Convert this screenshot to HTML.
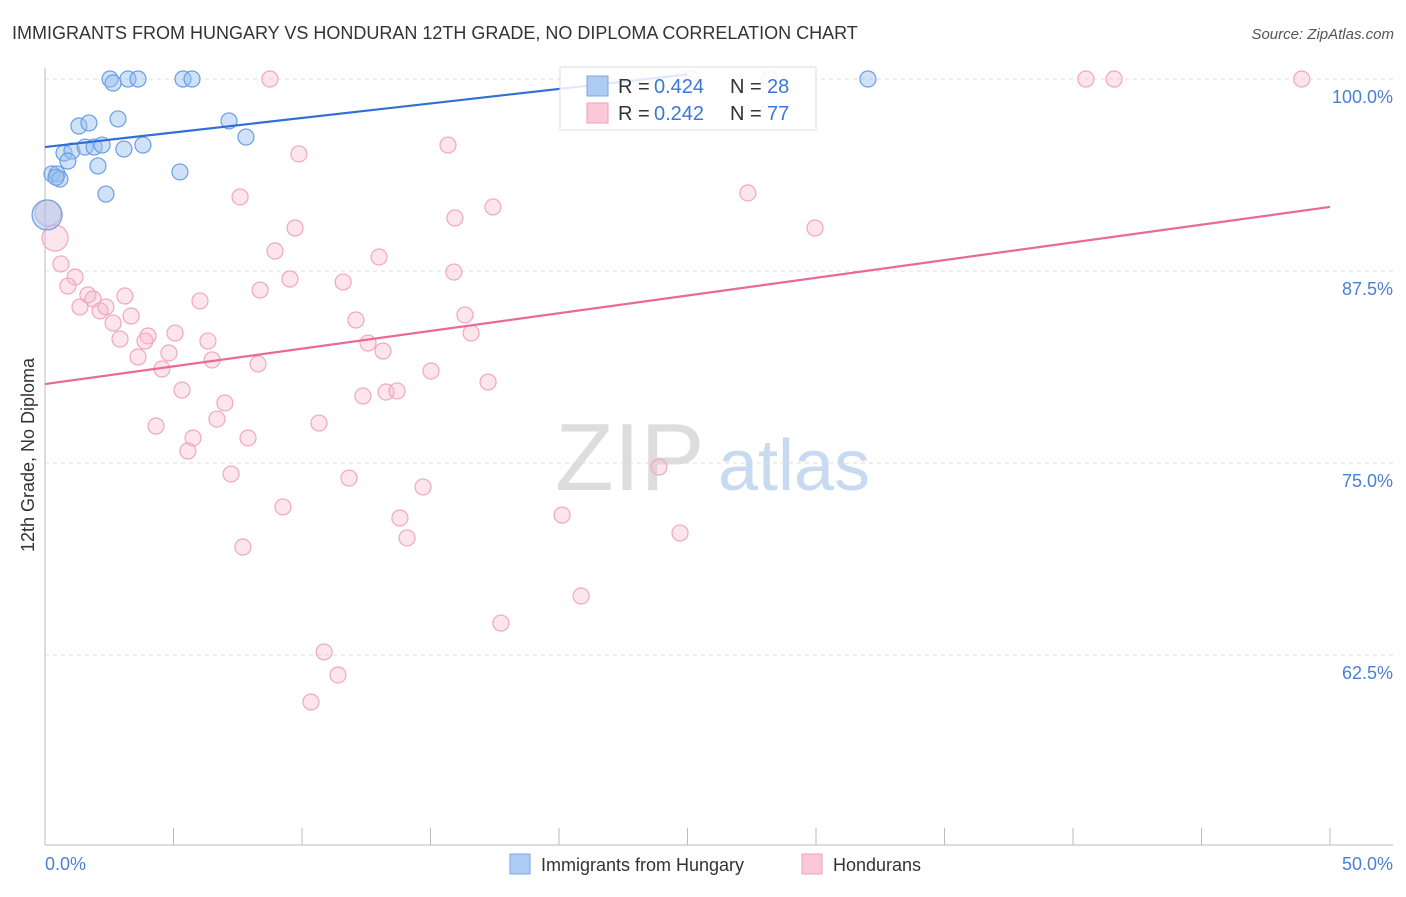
<!DOCTYPE html>
<html><head><meta charset="utf-8"><style>
body{margin:0;background:#fff;font-family:"Liberation Sans",sans-serif;}
svg text{font-family:"Liberation Sans",sans-serif;}
</style></head><body>
<svg id="chart" width="1406" height="892" xmlns="http://www.w3.org/2000/svg">
<text x="12" y="39" font-size="18" fill="#333">IMMIGRANTS FROM HUNGARY VS HONDURAN 12TH GRADE, NO DIPLOMA CORRELATION CHART</text>
<text x="1394" y="39" font-size="15" fill="#555" text-anchor="end" font-style="italic">Source: ZipAtlas.com</text>
<text x="555" y="490" font-size="96" fill="#ddd" font-family="Liberation Serif">ZIP</text>
<text x="718" y="490" font-size="72" fill="#c8daf2">atlas</text>
<g id="grid"></g><g id="pts"></g><g id="lines"></g>
<text transform="translate(34,455) rotate(-90)" font-size="18" fill="#333" text-anchor="middle">12th Grade, No Diploma</text>
<text x="45" y="870" font-size="18" fill="#4a7fd8">0.0%</text>
<text x="1393" y="870" font-size="18" fill="#4a7fd8" text-anchor="end">50.0%</text>
<g>
<rect x="560" y="67" width="256" height="63" fill="#fff" fill-opacity="0.85" stroke="#ddd"/>
<rect x="587" y="76" width="21" height="20" fill="#aecbf3" stroke="#7aa6e6"/>
<rect x="587" y="103" width="21" height="20" fill="#fbc8d7" stroke="#f0a0bb"/>
<text x="618" y="93" font-size="20" fill="#333">R =</text>
<text x="654" y="93" font-size="20" fill="#3a78d8">0.424</text>
<text x="730" y="93" font-size="20" fill="#333">N =</text>
<text x="767" y="93" font-size="20" fill="#3a78d8">28</text>
<text x="618" y="120" font-size="20" fill="#333">R =</text>
<text x="654" y="120" font-size="20" fill="#3a78d8">0.242</text>
<text x="730" y="120" font-size="20" fill="#333">N =</text>
<text x="767" y="120" font-size="20" fill="#3a78d8">77</text>
</g>
<g>
<rect x="510" y="854" width="20" height="20" fill="#aecbf3" stroke="#7aa6e6"/>
<text x="541" y="871" font-size="18" fill="#333">Immigrants from Hungary</text>
<rect x="802" y="854" width="20" height="20" fill="#fbc8d7" stroke="#f0a0bb"/>
<text x="833" y="871" font-size="18" fill="#333">Hondurans</text>
</g>
</svg>
<script>
const yTicks=[100,87.5,75,62.5];
const yTickLabels=["100.0%","87.5%","75.0%","62.5%"];
const xTicks=[0,5,10,15,20,25,30,35,40,45,50];
const blueX=[2.53,2.65,3.23,3.62,5.37,5.72,32.02,1.32,1.71,2.84,7.16,7.82,0.74,1.05,0.89,1.56,1.91,2.22,3.07,3.81,2.06,5.25,2.37,0.27,0.47,0.58,0.08,0.43];
const blueY=[100,99.74,100,100,100,100,100,96.94,97.14,97.4,97.27,96.22,95.18,95.31,94.66,95.57,95.57,95.7,95.44,95.7,94.34,93.95,92.51,93.82,93.82,93.49,91.15,93.6];
const blueR=[8,8,8,8,8,8,8,8,8,8,8,8,8,8,8,8,8,8,8,8,8,8,8,8,8,8,15,8];
const pinkX=[8.75,25.1,28.2,40.5,41.6,48.9,15.68,9.88,27.35,7.59,17.43,15.95,29.96,9.73,8.95,13.0,15.91,9.53,11.6,8.37,1.17,0.89,0.62,0.39,0.12,1.67,1.87,3.11,1.36,2.14,2.37,6.03,3.35,2.65,12.1,16.34,4.01,5.06,2.92,3.89,6.34,12.57,16.58,13.15,4.82,3.62,6.5,8.29,4.55,15.02,17.24,5.33,12.37,13.27,13.7,7.0,6.69,10.66,4.32,5.76,7.9,5.56,23.89,11.83,7.24,14.71,9.26,20.12,13.81,24.71,14.09,7.7,20.86,17.74,10.86,11.4,10.35];
const pinkY=[100,100,100,100,100,100,95.7,95.12,92.58,92.32,91.67,90.95,90.3,90.3,88.8,88.41,87.43,86.98,86.78,86.26,87.11,86.52,87.96,89.65,91.28,85.94,85.68,85.87,85.16,84.9,85.16,85.55,84.57,84.11,84.31,84.64,83.27,83.46,83.07,82.94,82.94,82.81,83.46,82.29,82.16,81.9,81.71,81.45,81.12,80.99,80.27,79.75,79.36,79.62,79.69,78.91,77.86,77.6,77.41,76.63,76.63,75.78,74.74,74.02,74.28,73.44,72.14,71.61,71.42,70.44,70.12,69.53,66.34,64.58,62.7,61.2,59.44];
const blueTrend=[[0,95.57],[25,100.3]];
const pinkTrend=[[0,80.14],[50,91.67]];
const NS="http://www.w3.org/2000/svg";
const sx=v=>45+v*25.7;
const sy=v=>79+(100-v)*15.36;
function mk(tag,attrs,parent){const e=document.createElementNS(NS,tag);for(const k in attrs)e.setAttribute(k,attrs[k]);parent.appendChild(e);return e;}
const grid=document.getElementById('grid');
yTicks.forEach((t,i)=>{
 const l=mk('line',{x1:45,x2:1393,y1:sy(t),y2:sy(t),stroke:'#ddd','stroke-dasharray':'4,4'},grid);
 
 
 const tx=mk('text',{x:1393,y:sy(t)+24,'font-size':18,fill:'#4a7fd8','text-anchor':'end'},grid);
 tx.textContent=yTickLabels[i];
 
 
});
const ax=mk('line',{x1:45,x2:1393,y1:845,y2:845,stroke:'#bbb'},grid);


const ay=mk('line',{x1:45,x2:45,y1:68,y2:845,stroke:'#bbb'},grid);


xTicks.forEach(t=>{
 const l=mk('line',{x1:sx(t),x2:sx(t),y1:828,y2:845,stroke:'#bbb'},grid);
 
 
});
const pts=document.getElementById('pts');
pinkX.forEach((x,i)=>{
 const c=mk('circle',{cx:sx(x),cy:sy(pinkY[i]),r:(x<0.5&&pinkY[i]>89)?13:8,fill:'rgba(248,180,200,0.35)',stroke:'#f2a6bf','stroke-width':1.2},pts);
 
 
});
blueX.forEach((x,i)=>{
 const c=mk('circle',{cx:sx(x),cy:sy(blueY[i]),r:blueR[i],fill:'rgba(150,190,240,0.45)',stroke:'#6b9ee2','stroke-width':1.2},pts);
 
 
});
const lines=document.getElementById('lines');
const bl=mk('line',{x1:sx(blueTrend[0][0]),y1:sy(blueTrend[0][1]),x2:sx(blueTrend[1][0]),y2:sy(blueTrend[1][1]),stroke:'#2f6fd6','stroke-width':2.2},lines);


const pl=mk('line',{x1:sx(pinkTrend[0][0]),y1:sy(pinkTrend[0][1]),x2:sx(pinkTrend[1][0]),y2:sy(pinkTrend[1][1]),stroke:'#e86a98','stroke-width':2.2},lines);


</script>
</body></html>
